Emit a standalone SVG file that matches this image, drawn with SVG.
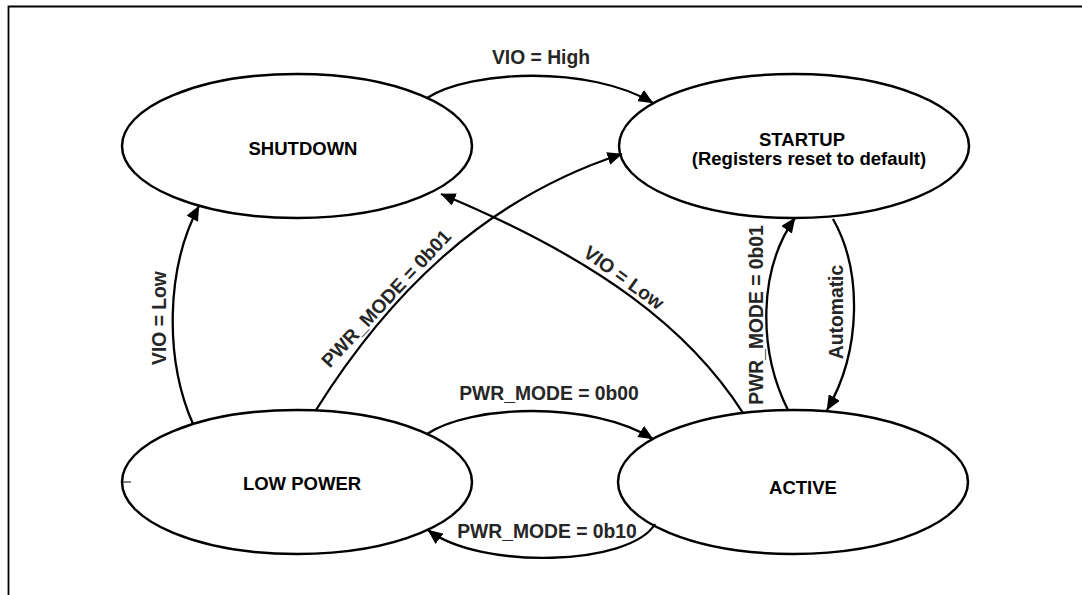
<svg xmlns="http://www.w3.org/2000/svg" width="1082" height="595" viewBox="0 0 1082 595">
<style>
.node ellipse{fill:#fff;stroke:#000;stroke-width:2.5}
.nt{font-family:"Liberation Sans",Arial,sans-serif;font-weight:bold;font-size:18.5px;fill:#000;text-anchor:middle}
.edge{fill:none;stroke:#000;stroke-width:2.3}
.lbl{font-family:"Liberation Sans",Arial,sans-serif;font-weight:bold;font-size:19.3px;fill:#262626;text-anchor:middle}
.frame{stroke:#000;stroke-width:1.8;fill:none}
</style>
<defs>
<marker id="arr" viewBox="0 0 15 13" refX="14.5" refY="6.5" markerWidth="15" markerHeight="13" orient="auto" markerUnits="userSpaceOnUse">
<path d="M0,0 L15,6.5 L0,13 z" fill="#000"/>
</marker>
</defs>
<rect width="1082" height="595" fill="#fff"/>
<path class="frame" d="M8.5,595 L8.5,6.5 L1082,6.5"/>

<g id="shutdown" class="node">
<ellipse cx="297" cy="146" rx="175" ry="72"/>
<text class="nt" x="303" y="155">SHUTDOWN</text>
</g>
<g id="startup" class="node">
<ellipse cx="794" cy="146" rx="175" ry="72"/>
<text class="nt" x="802" y="146">STARTUP</text>
<text class="nt" x="809" y="165">(Registers reset to default)</text>
</g>
<g id="lowpower" class="node">
<ellipse cx="297" cy="482" rx="175" ry="72"/>
<line x1="122" y1="482" x2="131" y2="482" stroke="#000" stroke-width="1"/>
<text class="nt" x="302" y="490">LOW POWER</text>
</g>
<g id="active" class="node">
<ellipse cx="793" cy="482" rx="175" ry="72"/>
<text class="nt" x="803" y="494">ACTIVE</text>
</g>

<g id="connectors">
<path class="edge" d="M427,98 C470,70 590,65 653,103" marker-end="url(#arr)"/>
<path class="edge" d="M193,424 C165,360 165,270 199,206" marker-end="url(#arr)"/>
<path class="edge" d="M316,410 C385,300 480,200 622,154" marker-end="url(#arr)"/>
<path class="edge" d="M743,413 C690,330 600,260 441,194" marker-end="url(#arr)"/>
<path class="edge" d="M788,410 C758,350 758,270 795,218" marker-end="url(#arr)"/>
<path class="edge" d="M833,219 C862,270 862,350 827,410" marker-end="url(#arr)"/>
<path class="edge" d="M427,434 C470,405 590,400 653,439" marker-end="url(#arr)"/>
<path class="edge" d="M655,524 C630,566 480,570 428,530" marker-end="url(#arr)"/>

<text class="lbl" x="541" y="64">VIO = High</text>
<text class="lbl" transform="translate(166,318) rotate(-90)">VIO = Low</text>
<text class="lbl" transform="translate(391,303) rotate(-47)">PWR_MODE = 0b01</text>
<text class="lbl" transform="translate(620,283) rotate(36)">VIO = Low</text>
<text class="lbl" transform="translate(763,315) rotate(-90)">PWR_MODE = 0b01</text>
<text class="lbl" transform="translate(843,312) rotate(-90)">Automatic</text>
<text class="lbl" x="549" y="400">PWR_MODE = 0b00</text>
<text class="lbl" x="547" y="538">PWR_MODE = 0b10</text>
</g>
</svg>
